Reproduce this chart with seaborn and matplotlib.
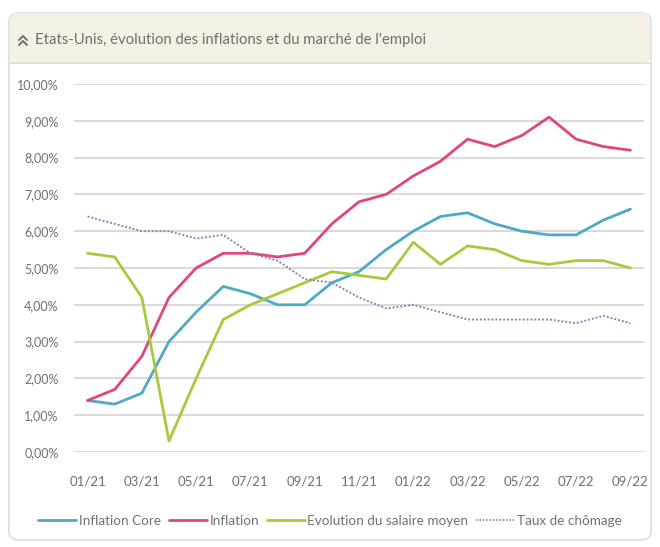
import numpy as np
import pandas as pd
import matplotlib
matplotlib.use("Agg")
import matplotlib.pyplot as plt
import seaborn as sns
from matplotlib.patches import FancyBboxPatch, Rectangle
from matplotlib.lines import Line2D

# ── Data ─────────────────────────────────────────────
mois = ["01/21", "02/21", "03/21", "04/21", "05/21", "06/21", "07/21", "08/21",
        "09/21", "10/21", "11/21", "12/21", "01/22", "02/22", "03/22", "04/22",
        "05/22", "06/22", "07/22", "08/22", "09/22"]
inflation_core = [1.4, 1.3, 1.6, 3.0, 3.8, 4.5, 4.3, 4.0, 4.0, 4.6, 4.9, 5.5,
                  6.0, 6.4, 6.5, 6.2, 6.0, 5.9, 5.9, 6.3, 6.6]
inflation = [1.4, 1.7, 2.6, 4.2, 5.0, 5.4, 5.4, 5.3, 5.4, 6.2, 6.8, 7.0,
             7.5, 7.9, 8.5, 8.3, 8.6, 9.1, 8.5, 8.3, 8.2]
salaire = [5.4, 5.3, 4.2, 0.3, 2.0, 3.6, 4.0, 4.3, 4.6, 4.9, 4.8, 4.7,
           5.7, 5.1, 5.6, 5.5, 5.2, 5.1, 5.2, 5.2, 5.0]
chomage = [6.4, 6.2, 6.0, 6.0, 5.8, 5.9, 5.4, 5.2, 4.7, 4.6, 4.2, 3.9,
           4.0, 3.8, 3.6, 3.6, 3.6, 3.6, 3.5, 3.7, 3.5]
series = ["Inflation Core", "Inflation", "Evolution du salaire moyen", "Taux de chômage"]
couleurs = ["#4fa9c4", "#e0457f", "#a9c93c", "#8784b5"]
yticks = np.arange(0, 11, 1)

df = pd.DataFrame({
    "idx": list(range(len(mois))) * 4,
    "valeur": inflation_core + inflation + salaire + chomage,
    "serie": np.repeat(series, len(mois)),
})

# ── Figure ───────────────────────────────────────────
sns.set_style("white")
plt.rcParams["font.family"] = ["Lato", "DejaVu Sans"]

fig = plt.figure(figsize=(6.6, 5.47), dpi=100)
W, H = 660, 547

# card + title bar (behind the axes)
card = FancyBboxPatch((9 / W, 1 - 540 / H), 642 / W, 527 / H,
                      boxstyle="round,pad=0,rounding_size=0.015",
                      transform=fig.transFigure, facecolor="white",
                      edgecolor="#d8d8d8", linewidth=1.0, zorder=-10)
fig.patches.append(card)
bar = FancyBboxPatch((10 / W, 1 - 63 / H), 640 / W, 50 / H,
                     boxstyle="round,pad=0,rounding_size=0.012",
                     transform=fig.transFigure, facecolor="#f4f0e6",
                     edgecolor="none", zorder=-9)
fig.patches.append(bar)
fig.patches.append(Rectangle((10 / W, 1 - 64 / H), 640 / W, 2 / H,
                             transform=fig.transFigure, facecolor="#e8e1d4",
                             edgecolor="none", zorder=-9))

# double chevron icon
for dy in (0, 5):
    fig.lines.append(Line2D([19 / W, 23 / W, 27 / W],
                            [1 - (40 + dy) / H, 1 - (36 + dy) / H, 1 - (40 + dy) / H],
                            transform=fig.transFigure, color="#6f6f6f", lw=1.4))
fig.text(35 / W, 1 - 40 / H, "Etats-Unis, évolution des inflations et du marché de l'emploi",
         fontsize=10.7, color="#707070", va="center", ha="left")

ax = fig.add_axes([74 / W, 1 - 452 / H, 570 / W, 368 / H])
ax.set_facecolor("none")

sns.lineplot(data=df, x="idx", y="valeur", hue="serie", style="serie",
             hue_order=series, style_order=series,
             palette=dict(zip(series, couleurs)),
             dashes={series[0]: "", series[1]: "", series[2]: "", series[3]: (1, 1)},
             linewidth=2.0, ax=ax, legend=False, clip_on=False)
ax.lines[3].set_linewidth(1.4)

ax.set_xlim(-0.5, len(mois) - 0.5)
ax.set_ylim(0, 10)
ax.set_yticks(yticks)
ax.set_yticklabels([f"{v:.2f}%".replace(".", ",") for v in yticks])
ax.set_xticks(range(0, len(mois), 2))
ax.set_xticklabels(mois[::2])
ax.tick_params(axis="both", length=0, labelsize=9, labelcolor="#707070")
ax.tick_params(axis="y", pad=11)
ax.tick_params(axis="x", pad=17, labelsize=9.5)
ax.grid(axis="y", color="#d9d9d9", linewidth=1.4)
ax.set_axisbelow(True)
for s in ax.spines.values():
    s.set_visible(False)
ax.set_xlabel("")
ax.set_ylabel("")

handles = [Line2D([], [], color=couleurs[0], lw=2.0),
           Line2D([], [], color=couleurs[1], lw=2.0),
           Line2D([], [], color=couleurs[2], lw=2.0),
           Line2D([], [], color=couleurs[3], lw=1.2, linestyle=(0, (1, 1)))]
fig.legend(handles, series, loc="center", bbox_to_anchor=(0.5, 1 - 521 / H),
           ncol=4, frameon=False, handlelength=2.8, handletextpad=0.2,
           columnspacing=0.6, fontsize=9.7, labelcolor="#707070")

fig.savefig("out.png", dpi=100)
